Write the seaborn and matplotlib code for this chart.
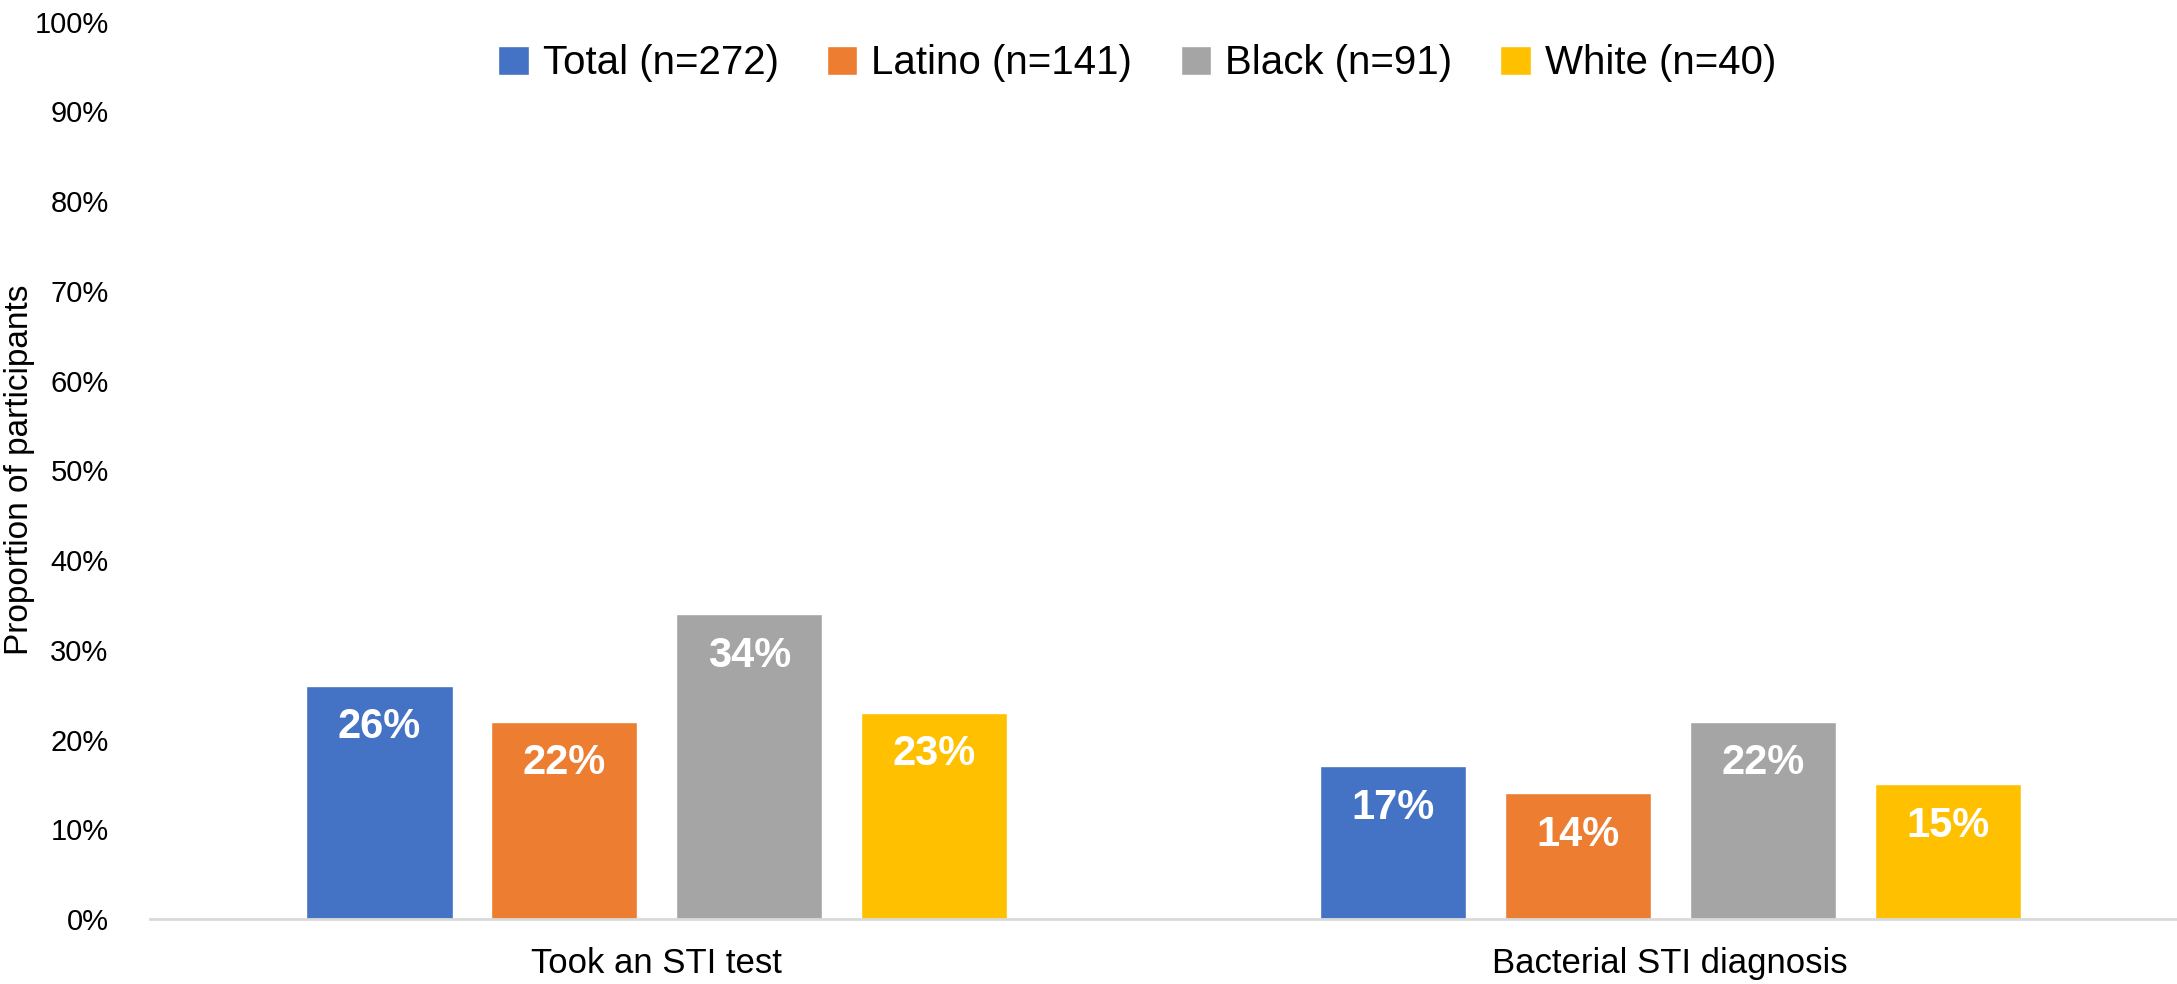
import pandas as pd
import matplotlib
matplotlib.use("Agg")
import matplotlib.pyplot as plt
import seaborn as sns
from matplotlib.ticker import PercentFormatter

categories = ["Took an STI test", "Bacterial STI diagnosis"]
groups = ["Total (n=272)", "Latino (n=141)", "Black (n=91)", "White (n=40)"]
total = [26, 17]
latino = [22, 14]
black = [34, 22]
white = [23, 15]
colors = ["#4472C4", "#ED7D31", "#A5A5A5", "#FFC000"]

rows = []
for g, vals in zip(groups, [total, latino, black, white]):
    for c, v in zip(categories, vals):
        rows.append({"category": c, "group": g, "value": v})
df = pd.DataFrame(rows)

sns.set_theme(style="white")
plt.rcParams["font.family"] = ["Liberation Sans", "DejaVu Sans"]
plt.rcParams["text.color"] = "black"
plt.rcParams["axes.labelcolor"] = "black"
plt.rcParams["xtick.color"] = "black"
plt.rcParams["ytick.color"] = "black"
narrow = ["Liberation Sans Narrow", "Liberation Sans", "DejaVu Sans"]

fig = plt.figure(figsize=(21.77, 9.84), dpi=100)
ax = fig.add_axes([0.069, 0.066, 0.931, 0.912])

sns.barplot(data=df, x="category", y="value", hue="group", order=categories,
            hue_order=groups, palette=colors, width=0.73, gap=0.21,
            saturation=1, ax=ax)

# value labels inside the top of each bar
for container in ax.containers:
    for bar in container:
        h = bar.get_height()
        ax.annotate(f"{h:.0f}%", xy=(bar.get_x() + bar.get_width() / 2, h),
                    xytext=(0, -30), textcoords="offset points",
                    ha="center", va="center", color="white",
                    fontsize=30, fontweight="bold", family=narrow)

ax.set_ylim(0, 100)
ax.set_yticks(range(0, 101, 10))
ax.yaxis.set_major_formatter(PercentFormatter(decimals=0))
ax.tick_params(axis="y", labelsize=21, length=0, pad=30)
ax.tick_params(axis="x", labelsize=25, length=0, pad=20)
for lbl in ax.get_xticklabels():
    lbl.set_family(narrow)
ax.set_xlabel("")
ax.set_ylabel("")
fig.text(0.009, 0.523, "Proportion of participants", rotation=90,
         ha="center", va="center", fontsize=24)

for side in ["top", "right", "left"]:
    ax.spines[side].set_visible(False)
ax.spines["bottom"].set_color("#D9D9D9")
ax.spines["bottom"].set_linewidth(2)

ax.legend(loc="upper center", bbox_to_anchor=(0.487, 1.015), ncol=4,
          frameon=False, prop={"family": narrow, "size": 29},
          handlelength=0.75, handleheight=0.75, handletextpad=0.35,
          columnspacing=1.2)

fig.savefig("out.png", dpi=100)
